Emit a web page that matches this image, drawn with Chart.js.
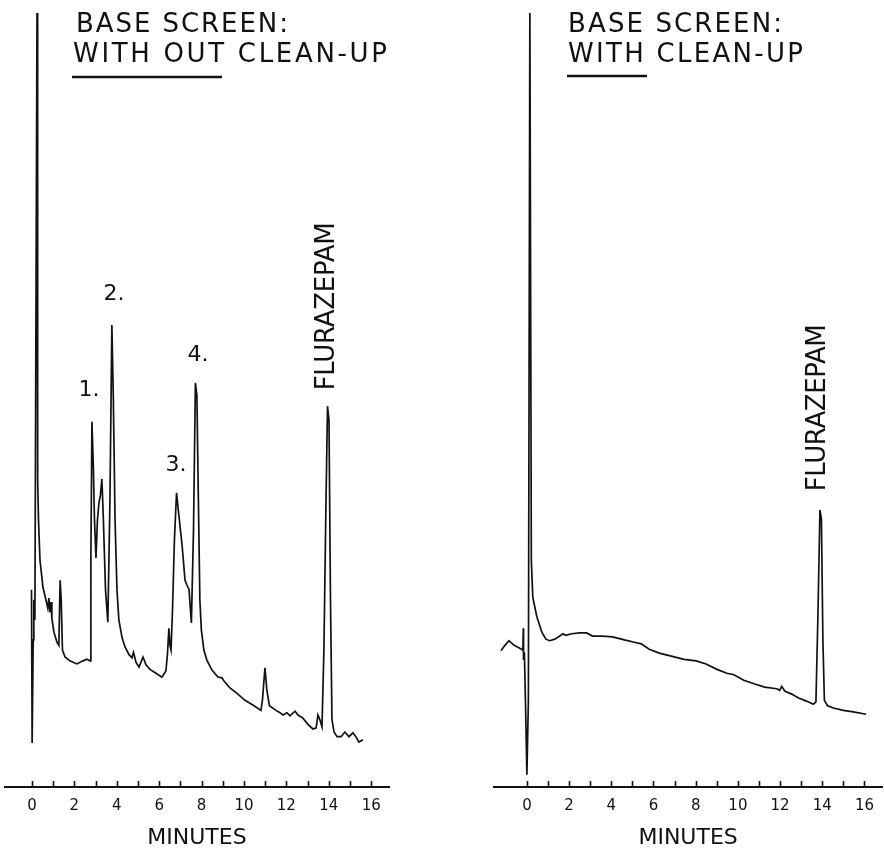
<!DOCTYPE html>
<html>
<head>
<meta charset="utf-8">
<script src="https://cdn.jsdelivr.net/npm/chart.js@4.4.1/dist/chart.umd.min.js"></script>
<style>
  html, body { margin: 0; padding: 0; background: #fff; }
  #wrap { position: relative; width: 884px; height: 852px; }
  .panel { position: absolute; top: 0; width: 442px; height: 852px; }
  #left { left: 0; }
  #right { left: 442px; }
</style>
</head>
<body>
<div id="wrap">
  <div class="panel" id="left"><canvas id="chartLeft"></canvas></div>
  <div class="panel" id="right"><canvas id="chartRight"></canvas></div>
</div>
<script>
// minutes on the x axis, detector signal in % of full scale
const tickMinutes = [0, 1, 2, 3, 4, 5, 6, 7, 8, 9, 10, 11, 12, 13, 14, 15, 16];

const leftMinutes = [
  -0.02, 0.01, 0.06, 0.09, 0.14, 0.24, 0.27, 0.31, 0.38, 0.52,
  0.66, 0.75, 0.80, 0.85, 0.90, 0.94, 1.04, 1.18, 1.27, 1.33,
  1.38, 1.44, 1.56, 1.79, 2.12, 2.41, 2.59, 2.74, 2.78, 2.83,
  2.90, 2.95, 3.02, 3.09, 3.16, 3.23, 3.30, 3.37, 3.47, 3.58,
  3.68, 3.77, 3.84, 3.92, 4.01, 4.10, 4.25, 4.39, 4.58, 4.72,
  4.79, 4.91, 5.05, 5.24, 5.38, 5.57, 5.85, 6.13, 6.32, 6.39,
  6.46, 6.51, 6.56, 6.63, 6.72, 6.82, 6.93, 7.08, 7.22, 7.31,
  7.41, 7.52, 7.62, 7.71, 7.78, 7.85, 7.92, 7.99, 8.11, 8.25,
  8.49, 8.77, 8.96, 9.06, 9.34, 9.67, 10.05, 10.42, 10.80, 10.87,
  10.99, 11.08, 11.20, 11.51, 11.70, 11.84, 12.03, 12.17, 12.41, 12.55,
  12.78, 13.02, 13.25, 13.40, 13.49, 13.58, 13.68, 13.77, 13.87, 13.94,
  14.01, 14.08, 14.15, 14.25, 14.39, 14.58, 14.76, 14.95, 15.14, 15.28,
  15.42, 15.61
];
const leftSignal = [
  25.5, 5.7, 19.0, 24.2, 21.6, 101, 39.7, 34.5, 29.3, 25.8,
  24.2, 23.1, 24.4, 22.6, 23.9, 21.8, 20.0, 18.7, 18.3, 26.7,
  24.2, 17.7, 16.8, 16.3, 15.9, 16.3, 16.5, 16.3, 29.3, 47.2,
  41.0, 34.5, 29.6, 34.5, 36.7, 37.7, 39.8, 34.5, 25.5, 21.3,
  37.1, 59.7, 50.0, 34.5, 25.5, 21.6, 19.3, 18.1, 17.1, 16.7,
  17.4, 16.1, 15.5, 16.8, 15.8, 15.2, 14.7, 14.2, 15.0, 17.1,
  20.5, 18.3, 17.7, 22.9, 31.9, 38.0, 35.1, 31.3, 26.7, 26.1,
  25.5, 21.2, 33.2, 52.2, 50.6, 37.1, 24.2, 20.3, 17.7, 16.4,
  15.1, 14.2, 14.1, 13.7, 12.8, 12.1, 11.2, 10.6, 9.9, 11.2,
  15.4, 12.5, 10.5, 9.9, 9.6, 9.3, 9.6, 9.2, 9.8, 9.3,
  8.9, 8.1, 7.5, 7.6, 9.3, 8.7, 7.8, 17.7, 37.1, 49.2,
  47.4, 24.2, 8.7, 7.1, 6.5, 6.5, 7.1, 6.5, 7.0, 6.5,
  5.8, 6.1
];

const rightMinutes = [
  -1.23, -1.04, -0.85, -0.61, -0.38, -0.19, -0.17, -0.16, -0.12, -0.07,
  0.0, 0.07, 0.14, 0.21, 0.28, 0.47, 0.71, 0.90, 1.08, 1.32,
  1.56, 1.70, 1.84, 2.12, 2.50, 2.83, 3.11, 3.58, 4.06, 4.62,
  5.09, 5.42, 5.80, 6.27, 6.84, 7.45, 8.02, 8.49, 9.01, 9.48,
  9.81, 10.28, 10.80, 11.27, 11.84, 11.98, 12.08, 12.22, 12.55, 12.88,
  13.25, 13.58, 13.70, 13.79, 13.89, 13.96, 14.03, 14.10, 14.25, 14.53,
  15.00, 15.47, 16.08
];
const rightSignal = [
  17.6, 18.3, 18.9, 18.3, 18.0, 17.7, 20.5, 16.4, 17.4, 11.2,
  1.6, 11.2, 101, 29.3, 24.5, 22.0, 20.0, 19.1, 18.9, 19.1,
  19.5, 19.8, 19.6, 19.8, 19.9, 19.9, 19.5, 19.5, 19.4, 19.0,
  18.7, 18.5, 17.8, 17.3, 16.9, 16.5, 16.3, 15.9, 15.2, 14.7,
  14.5, 13.8, 13.3, 12.9, 12.7, 12.5, 13.0, 12.4, 12.0, 11.5,
  11.1, 10.7, 11.0, 21.6, 35.8, 34.6, 19.0, 11.2, 10.5, 10.2,
  9.9, 9.7, 9.4
];

const leftPeakNames = ['1.', '2.', '3.', '4.', 'FLURAZEPAM'];
const rightPeakNames = ['FLURAZEPAM'];

const INK = '#111';
const FONT = '"DejaVu Sans", "Liberation Sans", sans-serif';

function spacedText(ctx, text, x, y, width) {
  ctx.letterSpacing = '0px';
  const w = ctx.measureText(text).width;
  const gap = text.length > 1 ? (width - w) / (text.length - 1) : 0;
  ctx.letterSpacing = gap + 'px';
  ctx.fillText(text, x, y);
  ctx.letterSpacing = '0px';
}

// titles + peak names, anchored through the chart scales
function labelPlugin(cfg) {
  return {
    id: 'screenLabels',
    afterDraw(chart) {
      const { ctx, scales: { x, y } } = chart;
      ctx.save();
      ctx.fillStyle = INK;
      ctx.strokeStyle = INK;

      // upward minute ticks on the time axis
      const base = chart.chartArea.bottom;
      ctx.lineWidth = 1.6;
      x.ticks.forEach(t => {
        const px = Math.round(x.getPixelForValue(t.value)) + 0.5;
        ctx.beginPath();
        ctx.moveTo(px, base);
        ctx.lineTo(px, base - 6);
        ctx.stroke();
      });

      ctx.font = `26px ${FONT}`;
      ctx.textAlign = 'left';
      ctx.textBaseline = 'alphabetic';
      cfg.title.forEach(l => spacedText(ctx, l.text, l.x, l.y, l.w));
      ctx.lineWidth = 2.5;
      ctx.beginPath();
      ctx.moveTo(cfg.underline[0], cfg.underline[2]);
      ctx.lineTo(cfg.underline[1], cfg.underline[2]);
      ctx.stroke();

      cfg.peaks.forEach(p => {
        const px = x.getPixelForValue(p.t);
        const py = y.getPixelForValue(p.v);
        if (p.rotate) {
          ctx.save();
          ctx.translate(px, py);
          ctx.rotate(-Math.PI / 2);
          ctx.font = `26px ${FONT}`;
          ctx.textAlign = 'left';
          ctx.textBaseline = 'middle';
          spacedText(ctx, p.text, -p.w / 2, 0, p.w);
          ctx.restore();
        } else {
          ctx.font = `22px ${FONT}`;
          ctx.textAlign = 'center';
          ctx.textBaseline = 'middle';
          ctx.fillText(p.text, px, py);
        }
      });
      ctx.restore();
    }
  };
}

function buildChart(canvasId, minutes, signal, xMin, padding, cfg) {
  return new Chart(document.getElementById(canvasId), {
    type: 'line',
    data: {
      datasets: [{
        data: minutes.map((m, i) => ({ x: m, y: signal[i] })),
        borderColor: INK,
        borderWidth: 1.7,
        pointRadius: 0,
        tension: 0,
        fill: false
      }]
    },
    options: {
      responsive: true,
      maintainAspectRatio: false,
      animation: false,
      layout: { padding },
      plugins: { legend: { display: false }, tooltip: { enabled: false } },
      scales: {
        x: {
          type: 'linear',
          min: xMin,
          max: 16.84,
          afterBuildTicks: (scale) => { scale.ticks = tickMinutes.map(v => ({ value: v })); },
          afterFit: (scale) => { scale.height = 65; },
          grid: { display: true, drawOnChartArea: false, drawTicks: false, color: 'rgba(0,0,0,0)' },
          border: { display: true, color: INK, width: 2 },
          ticks: {
            autoSkip: false,
            maxRotation: 0,
            padding: 10,
            color: INK,
            font: { family: FONT, size: 15 },
            callback: (v) => (v % 2 === 0 ? String(v) : '')
          },
          title: {
            display: true,
            text: 'MINUTES',
            color: INK,
            font: { family: FONT, size: 22 },
            padding: { top: 0, bottom: 1 }
          }
        },
        y: { display: false, min: 0, max: 100 }
      }
    },
    plugins: [labelPlugin(cfg)]
  });
}

buildChart('chartLeft', leftMinutes, leftSignal, -1.27,
  { top: 13, left: 5, right: 53, bottom: 0 },
  {
    title: [
      { text: 'BASE SCREEN:', x: 76, y: 32, w: 212 },
      { text: 'WITH OUT CLEAN-UP', x: 73, y: 62, w: 314 }
    ],
    underline: [72, 222, 77],
    peaks: [
      { text: leftPeakNames[0], t: 2.69, v: 51.2 },
      { text: leftPeakNames[1], t: 3.87, v: 63.6 },
      { text: leftPeakNames[2], t: 6.79, v: 41.6 },
      { text: leftPeakNames[3], t: 7.83, v: 55.8 },
      { text: leftPeakNames[4], t: 13.92, v: 62.1, rotate: true, w: 168 }
    ]
  });

buildChart('chartRight', rightMinutes, rightSignal, -1.56,
  { top: 13, left: 52, right: 0, bottom: 0 },
  {
    title: [
      { text: 'BASE SCREEN:', x: 126, y: 32, w: 214 },
      { text: 'WITH CLEAN-UP', x: 126, y: 62, w: 235 }
    ],
    underline: [125, 205, 76],
    peaks: [
      { text: rightPeakNames[0], t: 13.82, v: 49.0, rotate: true, w: 167 }
    ]
  });
</script>
</body>
</html>
